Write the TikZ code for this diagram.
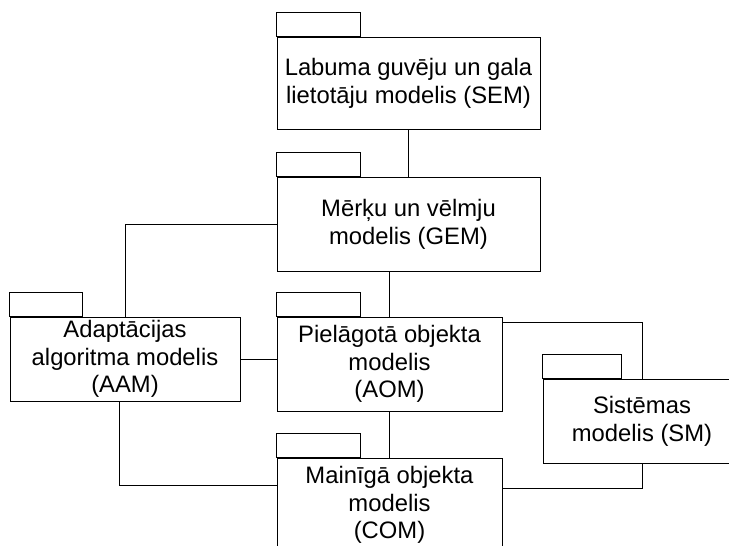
\documentclass[tikz,border=0pt]{standalone}
\usepackage{fontspec}
\setmainfont{Liberation Sans}
\usetikzlibrary{calc}
\tikzset{
  pkg/.style={draw, line width=0.95pt, fill=white, align=center, inner sep=0pt,
    font=\fontsize{23.8}{27.8}\selectfont},
  tab/.style={draw, line width=0.95pt},
  conn/.style={draw, line width=0.95pt}
}
\begin{document}
\begin{tikzpicture}[x=1pt,y=-1pt]
\useasboundingbox (0,0) rectangle (729,546);
\clip (0,0) rectangle (729,546);
\node[pkg, minimum width=263pt, minimum height=92pt] (sem) at (408.5,83) {Labuma guvēju un gala\\lietotāju modelis (SEM)};
\node[pkg, minimum width=263pt, minimum height=94pt] (gem) at (408.5,224) {Mērķu un vēlmju\\modelis (GEM)};
\node[pkg, minimum width=225pt, minimum height=94pt] (aom) at (389.5,364) {Pielāgotā objekta\\modelis\\(AOM)};
\node[pkg, minimum width=230pt, minimum height=84pt] (aam) at (125,359) {Adaptācijas\\algoritma modelis\\(AAM)};
\node[pkg, minimum width=225pt, minimum height=94pt] (com) at (389.5,505) {Mainīgā objekta\\modelis\\(COM)};
\node[pkg, minimum width=198pt, minimum height=84pt] (sm) at (642,421) {Sistēmas\\modelis (SM)};
% tabs
\draw[tab] (sem.north west) rectangle ++(84,-24);
\draw[tab] (gem.north west) rectangle ++(84,-24);
\draw[tab] (aom.north west) rectangle ++(84,-24);
\draw[tab] (aam.north west) rectangle ++(73,-24);
\draw[tab] (com.north west) rectangle ++(84,-24);
\draw[tab] (sm.north west) rectangle ++(79,-24);
% connectors
\draw[conn] (sem.south) -- (gem.north);
\draw[conn] (gem.west) -| (aam.north);
\draw[conn] (aom.north) -- (aom.north |- gem.south);
\draw[conn] (aam.east) -- (aam.east -| aom.west);
\draw[conn] ($(aom.north east)+(0,6)$) -| (sm.north);
\draw[conn] ($(aam.south)+(-6,0)$) |- ($(com.north west)+(0,28)$);
\draw[conn] (com.north) -- (aom.south);
\draw[conn] ($(com.north east)+(0,31)$) -| (sm.south);
\end{tikzpicture}
\end{document}
